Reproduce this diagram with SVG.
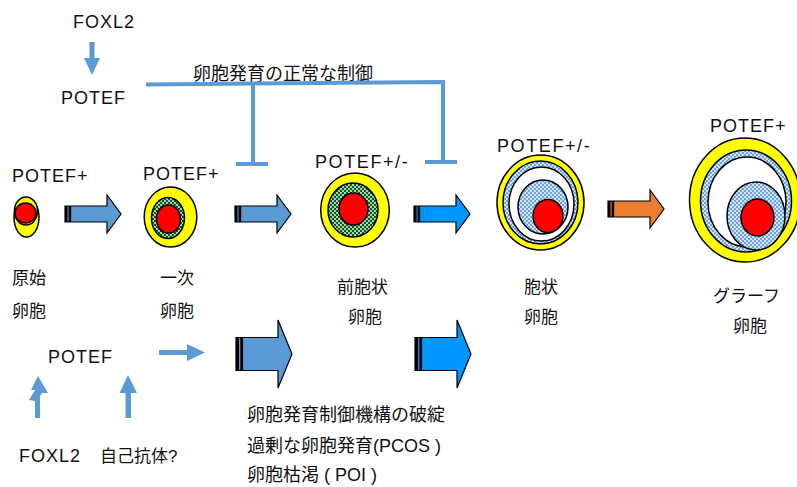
<svg xmlns="http://www.w3.org/2000/svg" xmlns:xlink="http://www.w3.org/1999/xlink" width="797" height="487" viewBox="0 0 797 487">
  <style>
    text { font-family: "Liberation Sans", "Noto Sans CJK JP", sans-serif; fill: #111; }
    .lat { font-size: 18px; letter-spacing: 1px; }
    .jp { font-size: 17px; }
    .ctl { fill: none; stroke: #5B9BD5; stroke-width: 4; }
    .bl { fill: #5B9BD5; }
    .yel { fill: #FFFF00; stroke: #000; stroke-width: 1.5; }
    .red { fill: #FF0000; stroke: #000; stroke-width: 1.5; }
    .wht { fill: #FFFFFF; stroke: #000; stroke-width: 1.5; }
    .grn { fill: url(#greenDots); stroke: #000; stroke-width: 1.5; }
    .blu { fill: url(#blueDots); stroke: #000; stroke-width: 1.5; }
    .stripe { fill: #000; }
  </style>
  <defs>
    <pattern id="greenDots" width="4" height="4" patternUnits="userSpaceOnUse">
      <rect width="4" height="4" fill="#075E18"/>
      <circle cx="1" cy="1" r="0.9" fill="#FFFFFF"/>
      <circle cx="3" cy="3" r="0.9" fill="#FFFFFF"/>
    </pattern>
    <pattern id="blueDots" width="4" height="4" patternUnits="userSpaceOnUse">
      <rect width="4" height="4" fill="#6FA6DC"/>
      <circle cx="1" cy="1" r="0.9" fill="#FFFFFF"/>
      <circle cx="3" cy="3" r="0.9" fill="#FFFFFF"/>
    </pattern>
    <!-- small block arrow, 56 wide, head 38 tall -->
    <g id="blockArrowS">
      <path d="M0,-8 H42 V-19 L56,0 L42,19 V8 H0 Z" stroke="#000" stroke-width="1.2"/>
      <rect class="stripe" x="0" y="-8" width="2.5" height="16"/>
      <rect class="stripe" x="3.6" y="-8" width="2.6" height="16"/>
    </g>
    <!-- large block arrow, 56 wide, head 68 tall -->
    <g id="blockArrowL">
      <path d="M0,-16.5 H42 V-34 L56,0 L42,34 V16.5 H0 Z" stroke="#000" stroke-width="1.2"/>
      <rect class="stripe" x="0" y="-16.5" width="3" height="33"/>
      <rect class="stripe" x="4.3" y="-16.5" width="2.8" height="33"/>
    </g>
  </defs>

  <rect width="797" height="487" fill="#FFFFFF"/>

  <!-- regulation pathway at top -->
  <g id="foxl2-top">
    <text class="lat" x="73" y="28">FOXL2</text>
  </g>
  <g id="potef-top">
    <text class="lat" x="61" y="104">POTEF</text>
  </g>
  <g id="control-label">
    <text class="jp" x="193" y="80" style="font-size:18px">卵胞発育の正常な制御</text>
  </g>

  <!-- follicle stages -->
  <g id="primordial">
    <text class="lat" x="12" y="182">POTEF+</text>
    <ellipse class="yel" cx="26.5" cy="217.5" rx="12.5" ry="19.5"/>
    <ellipse class="yel" cx="26" cy="211" rx="11.5" ry="14"/>
    <ellipse class="red" cx="25.5" cy="213" rx="10.5" ry="10"/>
    <text class="jp" x="12" y="284">原始</text>
    <text class="jp" x="12" y="317">卵胞</text>
  </g>

  <g id="primary">
    <text class="lat" x="143" y="180">POTEF+</text>
    <ellipse class="yel" cx="170.5" cy="217" rx="26.3" ry="30"/>
    <ellipse class="grn" cx="168" cy="218" rx="16.5" ry="20.5"/>
    <ellipse class="red" cx="168.5" cy="219" rx="12" ry="14"/>
    <text class="jp" x="160" y="284">一次</text>
    <text class="jp" x="160" y="317">卵胞</text>
  </g>

  <g id="preantral">
    <text class="lat" x="315" y="168" style="letter-spacing:1.6px">POTEF+/-</text>
    <ellipse class="yel" cx="355" cy="210" rx="34.3" ry="37"/>
    <ellipse class="grn" cx="353" cy="210" rx="25" ry="27"/>
    <ellipse class="red" cx="353.5" cy="209" rx="14.5" ry="16"/>
    <text class="jp" x="337" y="293">前胞状</text>
    <text class="jp" x="348" y="323">卵胞</text>
  </g>

  <g id="antral">
    <text class="lat" x="497" y="152" style="letter-spacing:1.6px">POTEF+/-</text>
    <ellipse class="yel" cx="540.5" cy="202.5" rx="43.5" ry="47.5"/>
    <ellipse class="blu" cx="540.5" cy="202.5" rx="37.5" ry="41.5"/>
    <ellipse class="wht" cx="541.5" cy="204" rx="32.5" ry="37"/>
    <ellipse class="blu" cx="543" cy="207" rx="25" ry="27"/>
    <ellipse class="red" cx="548" cy="216" rx="15" ry="16.5"/>
    <text class="jp" x="524" y="293">胞状</text>
    <text class="jp" x="524" y="323">卵胞</text>
  </g>

  <g id="graafian">
    <text class="lat" x="710" y="132">POTEF+</text>
    <ellipse class="yel" cx="745" cy="200" rx="55.5" ry="62"/>
    <ellipse class="blu" cx="746" cy="201" rx="45.5" ry="51"/>
    <ellipse class="wht" cx="747" cy="202" rx="39" ry="45"/>
    <ellipse class="blu" cx="756" cy="216" rx="29" ry="34"/>
    <ellipse class="red" cx="757.5" cy="217.5" rx="16.5" ry="18.5"/>
    <text class="jp" x="713" y="302">グラーフ</text>
    <text class="jp" x="733" y="332">卵胞</text>
  </g>

  <!-- pathway at bottom -->
  <g id="potef-bottom">
    <text class="lat" x="48" y="363">POTEF</text>
  </g>
  <g id="foxl2-bottom">
    <text class="lat" x="19" y="462">FOXL2</text>
  </g>
  <g id="autoantibody">
    <text class="jp" x="100" y="462">自己抗体?</text>
  </g>
  <g id="failure-notes">
    <text class="jp" x="247" y="421" style="font-size:18px">卵胞発育制御機構の破綻</text>
    <text class="jp" x="247" y="452" style="font-size:18px">過剰な卵胞発育(PCOS )</text>
    <text class="jp" x="247" y="481" style="font-size:18px">卵胞枯渇 ( POI )</text>
  </g>

  <g id="connectors">
    <!-- FOXL2 -> POTEF (top) -->
    <rect class="bl" x="89.5" y="42" width="5" height="17"/>
    <polygon class="bl" points="84,58 100,58 92,75"/>

    <!-- inhibitory control lines -->
    <polyline class="ctl" points="146,84.5 443,82 443,162"/>
    <line class="ctl" x1="253" y1="84" x2="253" y2="164"/>
    <line class="ctl" x1="236" y1="164" x2="268" y2="164"/>
    <line class="ctl" x1="425" y1="162" x2="457" y2="162"/>

    <!-- stage transitions -->
    <use xlink:href="#blockArrowS" fill="#5B9BD5" transform="translate(65,214)"/>
    <use xlink:href="#blockArrowS" fill="#5B9BD5" transform="translate(235,214)"/>
    <use xlink:href="#blockArrowS" fill="#0096FF" transform="translate(414,214)"/>
    <use xlink:href="#blockArrowS" fill="#ED7D31" transform="translate(608,209)"/>

    <!-- bottom pathway -->
    <rect class="bl" x="159" y="350" width="29" height="5"/>
    <polygon class="bl" points="187,344 205,352.5 187,361"/>
    <use xlink:href="#blockArrowL" fill="#5B9BD5" transform="translate(236,354)"/>
    <use xlink:href="#blockArrowL" fill="#0096FF" transform="translate(415,354)"/>

    <!-- FOXL2 -> POTEF (bottom) -->
    <polygon class="bl" points="38,376 48,393 42,393 40,396 40,418 35,418 35,401 29,400 35,390 31,390"/>
    <!-- autoantibody -> POTEF -->
    <rect class="bl" x="125.5" y="392" width="5.5" height="26"/>
    <polygon class="bl" points="119.5,393 137,393 128,375"/>
  </g>
</svg>
